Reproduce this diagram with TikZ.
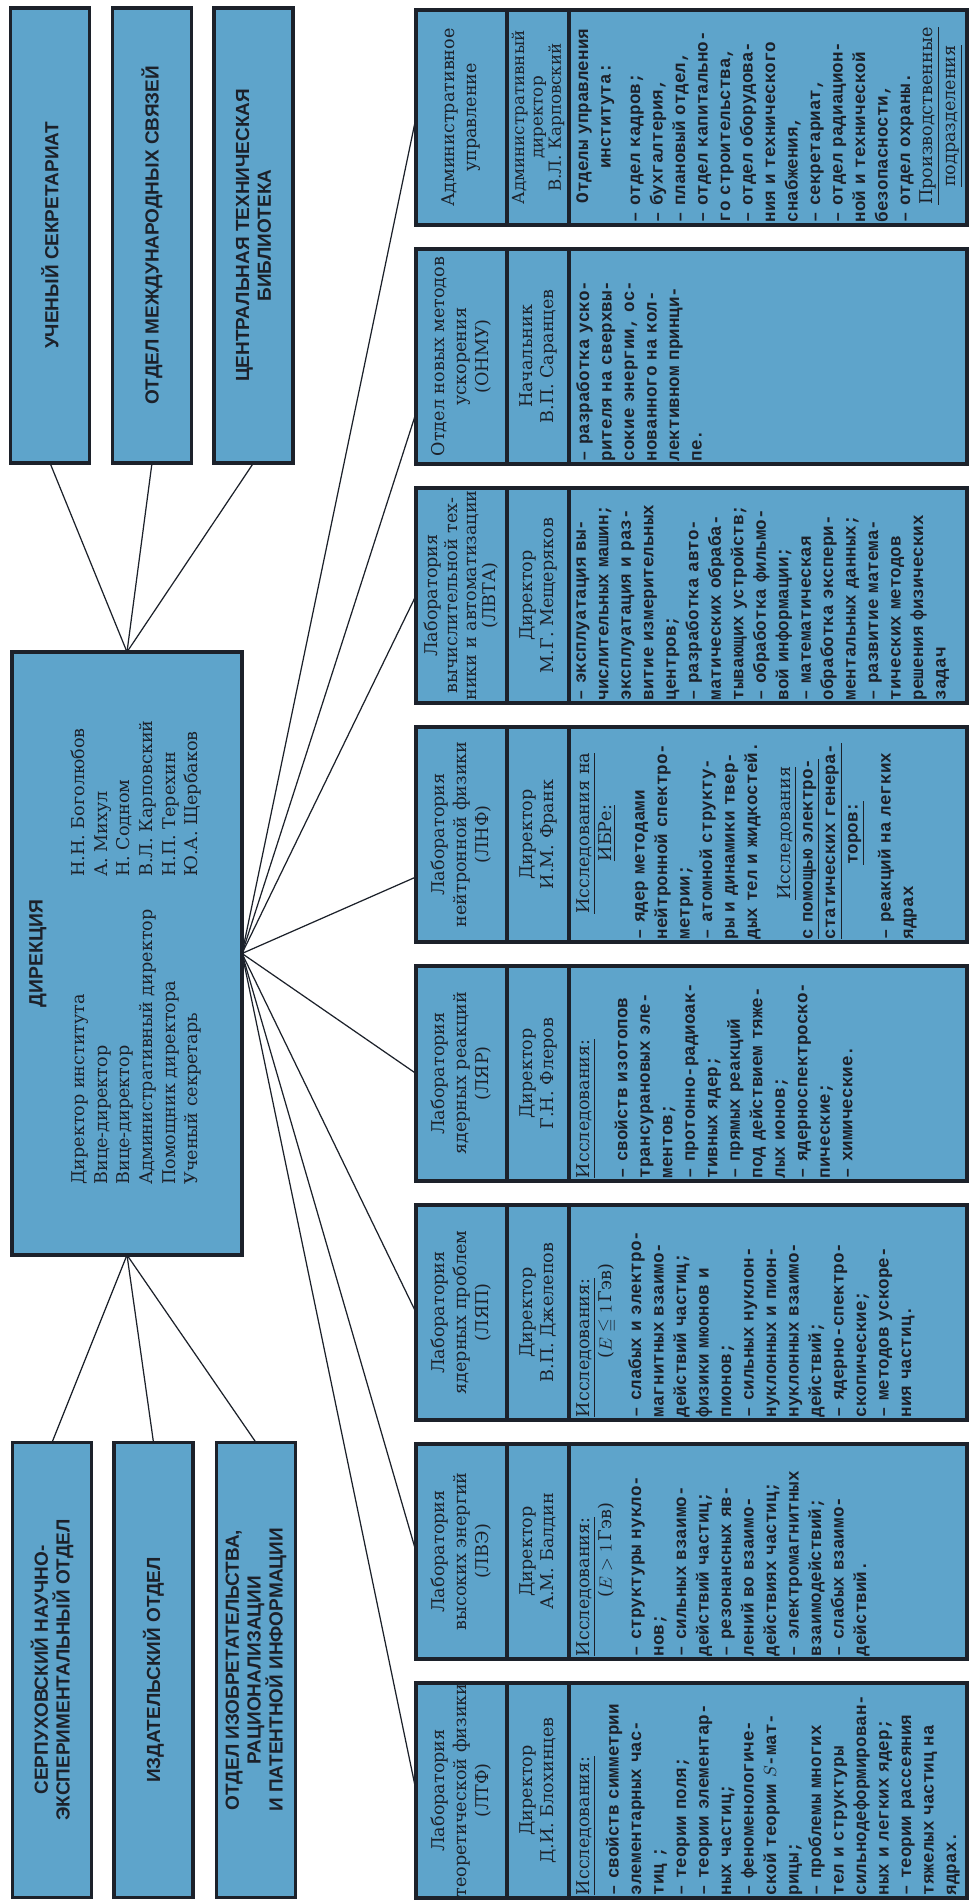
\documentclass[tikz,border=0pt]{standalone}
\usepackage{amssymb}
\usepackage{fontspec}
\newfontfamily\capsfont{Liberation Sans}
\newfontfamily\labfont{DejaVu Serif}
\newfontfamily\typefont{Liberation Mono}
\usetikzlibrary{positioning,calc}
\definecolor{boxblue}{RGB}{94,164,203}
\definecolor{ink}{RGB}{28,33,42}
\newcommand{\midline}[1]{\makebox[\hsize]{#1}}
\newcommand{\headfont}{\labfont\mdseries}

\begin{document}
\begin{tikzpicture}[
        sidebox/.style={draw=ink, line width=1.8pt, fill=boxblue, inner sep=0pt, outer sep=0pt,
            minimum width=9.1cm, minimum height=1.58cm, align=center, text=ink,
            font=\capsfont\bfseries\fontsize{10.8}{12.4}\selectfont},
        board/.style={draw=ink, line width=1.8pt, fill=boxblue, inner sep=0pt, outer sep=0pt,
            minimum width=12.06cm, minimum height=4.6cm},
        labhead/.style={draw=ink, line width=1.8pt, fill=boxblue, inner sep=0pt, outer sep=0pt,
            minimum width=4.3cm, minimum height=1.82cm, align=center, text=ink,
            font=\labfont\fontsize{10}{12.5}\selectfont},
        labchief/.style={labhead, minimum height=1.24cm, font=\labfont\fontsize{10}{12}\selectfont},
        labres/.style={labhead, minimum height=7.96cm},
        restext/.style={inner sep=0pt, text width=4.24cm, align=left, text=ink,
            font=\typefont\bfseries\fontsize{10}{12.8}\selectfont},
        link/.style={draw=ink, line width=0.7pt},
    ]
    \fill[white] (0,0) rectangle (19.42,38);
    \useasboundingbox (0,0) rectangle (19.42,38);
    \begin{scope}[rotate=90, transform shape]

    \node[board] (dir) at (18.93,-2.54) {};
    \node[text=ink, font=\capsfont\bfseries\fontsize{11}{13}\selectfont] (dirtitle) at (18.93,-0.76) {ДИРЕКЦИЯ};
    \node[anchor=west, inner sep=0pt, text=ink, font=\labfont\fontsize{10}{12.9}\selectfont] (dirstaff) at (14.3,-2.73) {%
        \begin{tabular}{@{}p{6.16cm}@{}l@{}}
        Директор института & Н.Н. Боголюбов\\
        Вице-директор & А. Михул\\
        Вице-директор & Н. Содном\\
        Административный директор & В.Л. Карповский\\
        Помощник директора & Н.П. Терехин\\
        Ученый секретарь & Ю.А. Щербаков
        \end{tabular}};

    \node[sidebox] (sci) at (33.29,-1.0) {УЧЕНЫЙ СЕКРЕТАРИАТ};
    \node[sidebox] (intl) at (33.29,-3.04) {ОТДЕЛ МЕЖДУНАРОДНЫХ СВЯЗЕЙ};
    \node[sidebox] (lib) at (33.29,-5.07) {ЦЕНТРАЛЬНАЯ ТЕХНИЧЕСКАЯ\\БИБЛИОТЕКА};
    \node[sidebox] (serp) at (4.6,-1.04) {СЕРПУХОВСКИЙ НАУЧНО-\\ЭКСПЕРИМЕНТАЛЬНЫЙ ОТДЕЛ};
    \node[sidebox] (publ) at (4.6,-3.07) {ИЗДАТЕЛЬСКИЙ ОТДЕЛ};
    \node[sidebox] (patent) at (4.6,-5.12) {ОТДЕЛ ИЗОБРЕТАТЕЛЬСТВА,\\РАЦИОНАЛИЗАЦИИ\\И ПАТЕНТНОЙ ИНФОРМАЦИИ};

    \draw[link] (dir.east) -- (sci.west);
    \draw[link] (dir.east) -- (intl.west);
    \draw[link] (dir.east) -- (lib.west);
    \draw[link] (dir.west) -- (serp.east);
    \draw[link] (dir.west) -- (publ.east);
    \draw[link] (dir.west) -- (patent.east);

    \node[labhead] (ltf) at (2.19,-9.23) {Лаборатория\\теоретической физики\\(ЛТФ)};
    \node[labchief, below=0pt of ltf] (ltfchief) {Директор\\Д.И. Блохинцев};
    \node[labres, below=0pt of ltfchief] (ltfres) {};
    \node[restext, below right=0.14cm and 0.05cm of ltfres.north west] (ltftext) {%
        {\headfont\underline{Исследования:}}\\[4pt]
        – свойств симметрии\\
        элементарных час-\\
        тиц ;\\
        – теории поля;\\
        – теории элементар-\\
        ных частиц;\\
        – феноменологиче-\\
        ской теории $S$-мат-\\
        рицы;\\
        – проблемы многих\\
        тел и структуры\\
        сильнодеформирован-\\
        ных и легких ядер;\\
        – теории рассеяния\\
        тяжелых частиц на\\
        ядрах.};

    \node[labhead] (lve) at (6.97,-9.23) {Лаборатория\\высоких энергий\\(ЛВЭ)};
    \node[labchief, below=0pt of lve] (lvechief) {Директор\\А.М. Балдин};
    \node[labres, below=0pt of lvechief] (lveres) {};
    \node[restext, below right=0.14cm and 0.05cm of lveres.north west] (lvetext) {%
        {\headfont\underline{Исследования:}}\\
        \midline{\headfont($E>1$\,Гэв)}\\[4pt]
        – структуры нукло-\\
        нов;\\
        – сильных взаимо-\\
        действий частиц;\\
        – резонансных яв-\\
        лений во взаимо-\\
        действиях частиц;\\
        – электромагнитных\\
        взаимодействий;\\
        – слабых взаимо-\\
        действий.};

    \node[labhead] (lyap) at (11.75,-9.23) {Лаборатория\\ядерных проблем\\(ЛЯП)};
    \node[labchief, below=0pt of lyap] (lyapchief) {Директор\\В.П. Джелепов};
    \node[labres, below=0pt of lyapchief] (lyapres) {};
    \node[restext, below right=0.14cm and 0.05cm of lyapres.north west] (lyaptext) {%
        {\headfont\underline{Исследования:}}\\
        \midline{\headfont($E\leqq 1$\,Гэв)}\\[4pt]
        – слабых и электро-\\
        магнитных взаимо-\\
        действий частиц;\\
        физики мюонов и\\
        пионов;\\
        – сильных нуклон-\\
        нуклонных и пион-\\
        нуклонных взаимо-\\
        действий;\\
        – ядерно-спектро-\\
        скопические;\\
        – методов ускоре-\\
        ния частиц.};

    \node[labhead] (lyar) at (16.53,-9.23) {Лаборатория\\ядерных реакций\\(ЛЯР)};
    \node[labchief, below=0pt of lyar] (lyarchief) {Директор\\Г.Н. Флеров};
    \node[labres, below=0pt of lyarchief] (lyarres) {};
    \node[restext, below right=0.14cm and 0.05cm of lyarres.north west] (lyartext) {%
        {\headfont\underline{Исследования:}}\\[9pt]
        – свойств изотопов\\
        трансурановых эле-\\
        ментов;\\
        – протонно-радиоак-\\
        тивных ядер;\\
        – прямых реакций\\
        под действием тяже-\\
        лых ионов;\\
        – ядерноспектроско-\\
        пические;\\
        – химические.};

    \node[labhead] (lnf) at (21.31,-9.23) {Лаборатория\\нейтронной физики\\(ЛНФ)};
    \node[labchief, below=0pt of lnf] (lnfchief) {Директор\\И.М. Франк};
    \node[labres, below=0pt of lnfchief] (lnfres) {};
    \node[restext, below right=0.14cm and 0.05cm of lnfres.north west] (lnftext) {%
        \midline{\headfont\underline{Исследования на}}\\
        \midline{\headfont\underline{ИБРе:}}\\[6pt]
        – ядер методами\\
        нейтронной спектро-\\
        метрии;\\
        – атомной структу-\\
        ры и динамики твер-\\
        дых тел и жидкостей.\\[6pt]
        \midline{\headfont\underline{Исследования}}\\
        \underline{с помощью электро-}\\
        \underline{статических генера-}\\
        \midline{\underline{торов:}}\\[6pt]
        – реакций на легких\\
        ядрах};

    \node[labhead, font=\labfont\fontsize{10}{11}\selectfont] (lvta) at (26.09,-9.23) {Лаборатория\\вычислительной тех-\\ники и автоматизации\\(ЛВТА)};
    \node[labchief, below=0pt of lvta] (lvtachief) {Директор\\М.Г. Мещеряков};
    \node[labres, below=0pt of lvtachief] (lvtares) {};
    \node[restext, below right=0.14cm and 0.05cm of lvtares.north west] (lvtatext) {%
        – эксплуатация вы-\\
        числительных машин;\\
        эксплуатация и раз-\\
        витие измерительных\\
        центров;\\
        – разработка авто-\\
        матических обраба-\\
        тывающих устройств;\\
        – обработка фильмо-\\
        вой информации;\\
        – математическая\\
        обработка экспери-\\
        ментальных данных;\\
        – развитие матема-\\
        тических методов\\
        решения физических\\
        задач};

    \node[labhead] (onmu) at (30.87,-9.23) {Отдел новых методов\\ускорения\\(ОНМУ)};
    \node[labchief, below=0pt of onmu] (onmuchief) {Начальник\\В.П. Саранцев};
    \node[labres, below=0pt of onmuchief] (onmures) {};
    \node[restext, below right=0.14cm and 0.05cm of onmures.north west] (onmutext) {%
        – разработка уско-\\
        рителя на сверхвы-\\
        сокие энергии, ос-\\
        нованного на кол-\\
        лективном принци-\\
        пе.};

    \node[labhead] (adm) at (35.65,-9.23) {Административное\\управление};
    \node[labchief, below=0pt of adm, font=\labfont\fontsize{9.5}{10.4}\selectfont] (admchief) {Административный\\директор\\В.Л. Карповский};
    \node[labres, below=0pt of admchief] (admres) {};
    \node[restext, below right=0.14cm and 0.05cm of admres.north west] (admtext) {%
        \midline{Отделы управления}\\
        \midline{института:}\\[4pt]
        – отдел кадров;\\
        – бухгалтерия,\\
        – плановый отдел,\\
        – отдел капитально-\\
        го строительства,\\
        – отдел оборудова-\\
        ния и технического\\
        снабжения,\\
        – секретариат,\\
        – отдел радиацион-\\
        ной и технической\\
        безопасности,\\
        – отдел охраны.\\
        \midline{\headfont\underline{Производственные}}\\
        \midline{\headfont\underline{подразделения}}};

    \draw[link] (dir.south) -- (ltf.north);
    \draw[link] (dir.south) -- (lve.north);
    \draw[link] (dir.south) -- (lyap.north);
    \draw[link] (dir.south) -- (lyar.north);
    \draw[link] (dir.south) -- ($(lnf.north)+(-0.85,0)$);
    \draw[link] (dir.south) -- (lvta.north);
    \draw[link] (dir.south) -- ($(onmu.north)+(-1.13,0)$);
    \draw[link] (dir.south) -- (adm.north);

    \end{scope}
\end{tikzpicture}
\end{document}
